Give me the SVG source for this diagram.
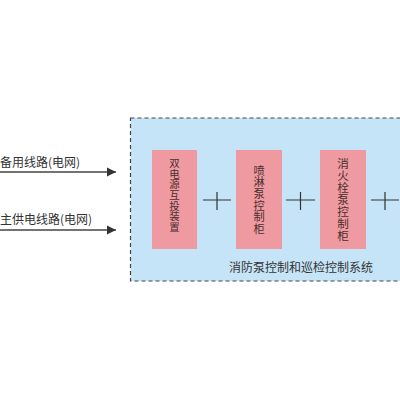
<svg xmlns="http://www.w3.org/2000/svg" width="400" height="400" viewBox="0 0 400 400">
<style>
text{font-family:"Noto Sans CJK SC","Liberation Sans",sans-serif;font-size:12px}
.lbl{fill:#333}
.box{fill:#ef9aa0}
.btxt{fill:#4a2f2f;text-anchor:middle}
.plus{stroke:#333;stroke-width:1.2;fill:none}
.arr{stroke:#444;stroke-width:1.5;fill:none}
</style>
<defs>
<marker id="ah" markerWidth="10" markerHeight="10" refX="9" refY="5" orient="auto" markerUnits="userSpaceOnUse">
<path d="M0,0.5 L9,5 L0,9.5 Z" fill="#333"/>
</marker>
</defs>
<rect width="400" height="400" fill="#fff"/>
<g id="system">
<rect x="130.5" y="118" width="290" height="163" fill="#c6e4f7" stroke="#444" stroke-width="1.2" stroke-dasharray="4,3"/>
<text class="lbl" x="301" y="271.5" text-anchor="middle">消防泵控制和巡检控制系统</text>
</g>
<g id="input1">
<text class="lbl" x="0" y="166.5">备用线路(电网)</text>
</g>
<g id="input2">
<text class="lbl" x="0" y="224">主供电线路(电网)</text>
</g>
<g id="node1">
<rect class="box" x="152" y="150" width="45" height="99"/>
<text class="btxt" style="font-size:10.4px"><tspan x="174.5" y="167.2">双</tspan><tspan x="174.5" y="177.8">电</tspan><tspan x="174.5" y="188.4">源</tspan><tspan x="174.5" y="199">互</tspan><tspan x="174.5" y="209.6">投</tspan><tspan x="174.5" y="220.2">装</tspan><tspan x="174.5" y="230.8">置</tspan></text>
</g>
<g id="node2">
<rect class="box" x="236" y="150" width="46" height="99"/>
<text class="btxt" style="font-size:11.2px"><tspan x="259" y="174.6">喷</tspan><tspan x="259" y="186.3">淋</tspan><tspan x="259" y="198">泵</tspan><tspan x="259" y="209.7">控</tspan><tspan x="259" y="221.4">制</tspan><tspan x="259" y="233.1">柜</tspan></text>
</g>
<g id="node3">
<rect class="box" x="320" y="150" width="46" height="99"/>
<text class="btxt" style="font-size:11.6px"><tspan x="343" y="168">消</tspan><tspan x="343" y="180">火</tspan><tspan x="343" y="192">栓</tspan><tspan x="343" y="204">泵</tspan><tspan x="343" y="216">控</tspan><tspan x="343" y="228">制</tspan><tspan x="343" y="240">柜</tspan></text>
</g>
<g id="connectors">
<line class="arr" x1="0" y1="172" x2="116" y2="172" marker-end="url(#ah)"/>
<line class="arr" x1="0" y1="230" x2="116" y2="230" marker-end="url(#ah)"/>
<path class="plus" d="M203,200 H231 M217,192 V210"/>
<path class="plus" d="M286,200 H315 M300.5,192 V210"/>
<path class="plus" d="M371,200 H399 M385,192 V210"/>
</g>
</svg>
